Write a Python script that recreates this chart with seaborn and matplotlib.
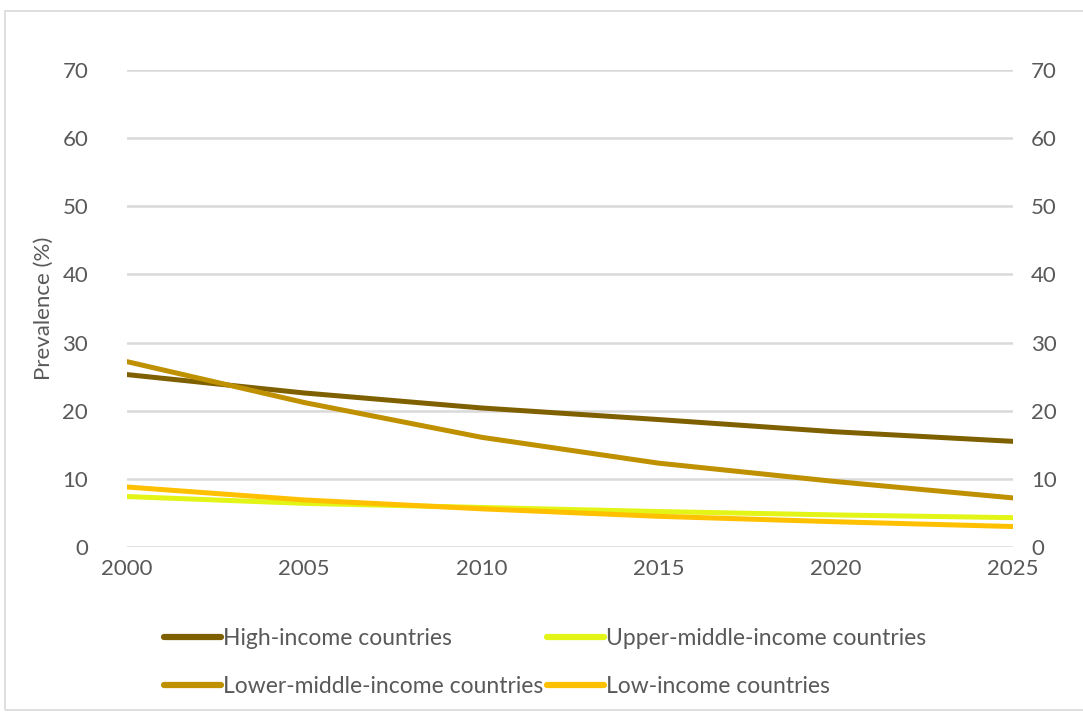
import matplotlib
matplotlib.use("Agg")
import matplotlib.pyplot as plt
import seaborn as sns
import pandas as pd
from matplotlib.patches import Rectangle
from matplotlib.lines import Line2D

years = [2000, 2005, 2010, 2015, 2020, 2025]
high_income = [25.3, 22.6, 20.4, 18.7, 16.9, 15.5]
upper_middle_income = [7.4, 6.4, 5.8, 5.2, 4.7, 4.3]
lower_middle_income = [27.2, 21.2, 16.1, 12.3, 9.6, 7.2]
low_income = [8.8, 6.9, 5.6, 4.5, 3.7, 3.0]

series_names = ["High-income countries", "Upper-middle-income countries",
                "Lower-middle-income countries", "Low-income countries"]
series_values = [high_income, upper_middle_income, lower_middle_income, low_income]
colors = ["#7F6000", "#E2F516", "#BF9000", "#FFC000"]
yticks = [0, 10, 20, 30, 40, 50, 60, 70]

rows = []
for name, vals in zip(series_names, series_values):
    for y, v in zip(years, vals):
        rows.append({"Year": y, "Value": v, "Series": name})
df = pd.DataFrame(rows)

sns.set_style("white")
plt.rcParams['font.family'] = ['Lato', 'DejaVu Sans']

fig = plt.figure(figsize=(10.83, 7.18), dpi=100)
ax = fig.add_axes([0.1173, 0.2382, 0.818, 0.6643])

for y in yticks:
    ax.axhline(y, color="#D9D9D9", lw=1.8, zorder=0)

sns.lineplot(data=df, x="Year", y="Value", hue="Series", hue_order=series_names,
             palette=colors, linewidth=3.6, ax=ax, legend=False, zorder=3)

ax.set_xlim(2000, 2025)
ax.set_ylim(0, 70)
ax.set_xticks(years)
ax.set_xticklabels([str(y) for y in years])
ax.set_yticks(yticks)
ax.tick_params(axis="both", length=0, labelsize=16, labelcolor="#595959")
ax.tick_params(axis="y", pad=28)
ax.tick_params(axis="x", pad=9)
ax.set_xlabel("")
ax.set_ylabel("Prevalence (%)", fontsize=16, color="#595959", labelpad=6)
for s in ax.spines.values():
    s.set_visible(False)

ax2 = ax.twinx()
ax2.set_ylim(0, 70)
ax2.set_yticks(yticks)
ax2.tick_params(axis="y", length=0, labelsize=16, labelcolor="#595959", pad=13)
for s in ax2.spines.values():
    s.set_visible(False)

order = [0, 2, 1, 3]
handles = [Line2D([0], [0], color=colors[i], lw=4.5, solid_capstyle="round") for i in order]
labels = [series_names[i] for i in order]
leg = fig.legend(handles, labels, loc="center left", ncol=2,
                 bbox_to_anchor=(0.132, 0.0775), frameon=False, fontsize=16.5,
                 labelcolor="#595959", handlelength=2.5, handletextpad=0.1,
                 columnspacing=0.15, labelspacing=1.15)

fig.patches.append(Rectangle((5 / 1083, 8 / 718), 1.0, 1 - 19 / 718,
                             transform=fig.transFigure, fill=False,
                             edgecolor="#D9D9D9", lw=1.2))

fig.savefig("out.png", dpi=100)
